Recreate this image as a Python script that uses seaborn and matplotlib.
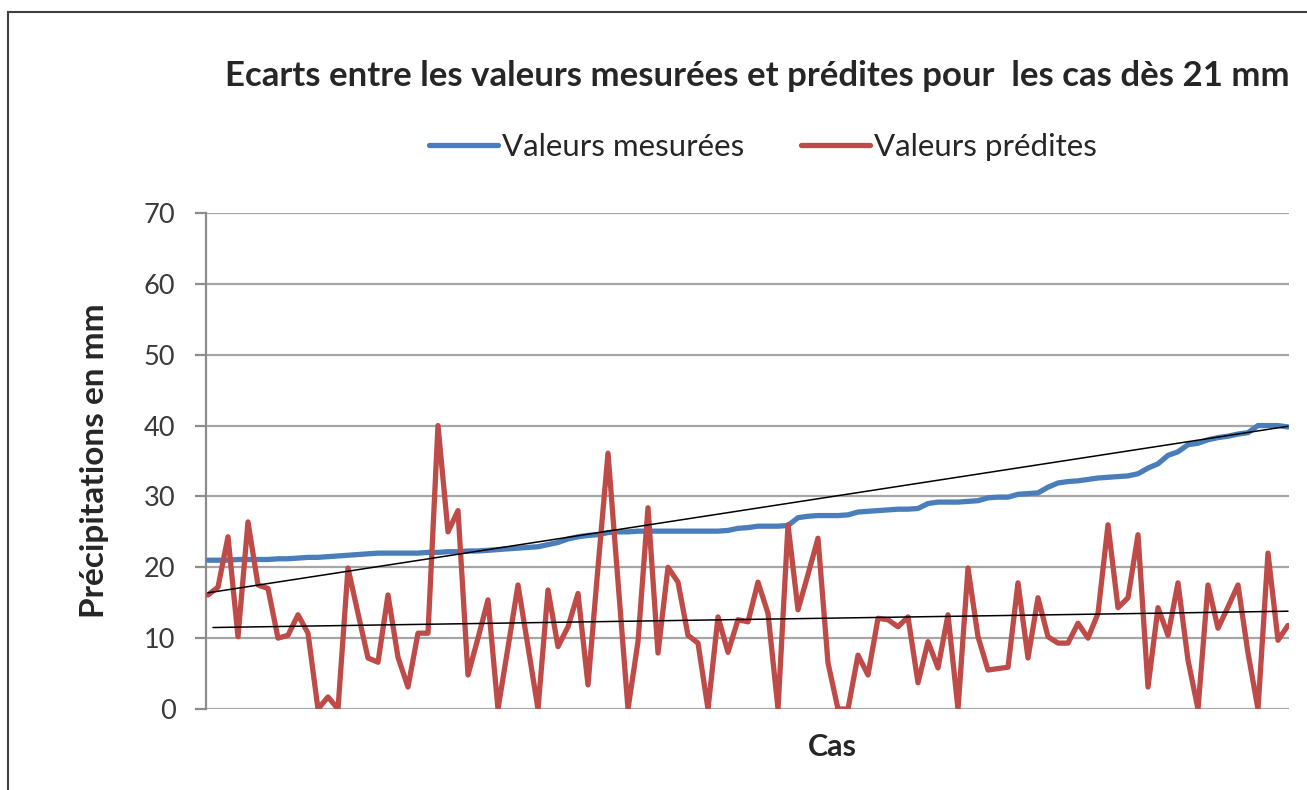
import numpy as np
import pandas as pd
import seaborn as sns
import matplotlib.pyplot as plt
from matplotlib.patches import Rectangle

mesurees = [21.0, 21.0, 21.0, 21.1, 21.1, 21.1, 21.1, 21.2, 21.2, 21.3,
            21.4, 21.4, 21.5, 21.6, 21.7, 21.8, 21.9, 22.0, 22.0, 22.0,
            22.0, 22.0, 22.1, 22.1, 22.2, 22.2, 22.3, 22.3, 22.4, 22.5,
            22.6, 22.7, 22.8, 22.9, 23.2, 23.5, 24.0, 24.3, 24.5, 24.6,
            24.9, 25.0, 25.0, 25.1, 25.1, 25.1, 25.1, 25.1, 25.1, 25.1,
            25.1, 25.1, 25.2, 25.5, 25.6, 25.8, 25.8, 25.8, 25.9, 27.0,
            27.2, 27.3, 27.3, 27.3, 27.4, 27.8, 27.9, 28.0, 28.1, 28.2,
            28.2, 28.3, 29.0, 29.2, 29.2, 29.2, 29.3, 29.4, 29.8, 29.9,
            29.9, 30.3, 30.4, 30.5, 31.3, 31.9, 32.1, 32.2, 32.4, 32.6,
            32.7, 32.8, 32.9, 33.2, 34.0, 34.6, 35.8, 36.3, 37.3, 37.5,
            38.0, 38.3, 38.5, 38.8, 39.0, 40.0, 40.0, 40.0, 39.8]

predites = [16.1, 17.2, 24.3, 10.2, 26.4, 17.5, 17.0, 10.0, 10.4, 13.3,
            10.7, 0.0, 1.7, 0.0, 19.9, 13.5, 7.2, 6.6, 16.1, 7.3,
            3.1, 10.7, 10.7, 40.0, 25.0, 28.0, 4.8, 10.0, 15.4, 0.0,
            8.7, 17.5, 8.8, 0.0, 16.8, 8.8, 11.6, 16.3, 3.4, 20.0,
            36.1, 18.0, 0.0, 9.5, 28.4, 7.9, 20.0, 17.9, 10.4, 9.3,
            0.0, 13.0, 8.0, 12.6, 12.3, 17.9, 13.5, 0.0, 26.0, 14.0,
            19.0, 24.1, 6.5, 0.0, 0.0, 7.6, 4.8, 12.8, 12.6, 11.6,
            13.0, 3.7, 9.5, 5.8, 13.3, 0.0, 19.9, 10.2, 5.5, 5.7,
            5.9, 17.8, 7.2, 15.7, 10.2, 9.3, 9.3, 12.1, 10.0, 13.5,
            26.0, 14.3, 15.7, 24.6, 3.1, 14.3, 10.4, 17.8, 6.9, 0.0,
            17.5, 11.4, 14.4, 17.5, 7.9, 0.0, 22.0, 9.7, 11.8]

cas = list(range(len(mesurees)))

# droites de tendance telles que tracées (extrémités)
tendance_cas = [0, len(cas) - 1]
tendance_mesurees = [16.4, 39.9]
tendance_predites = [11.5, 13.8]

df = pd.DataFrame({'Cas': cas, 'Valeurs mesurées': mesurees, 'Valeurs prédites': predites})

sns.set_style('white')
plt.rcParams['font.family'] = ['Lato', 'DejaVu Sans']

bleu = '#4A7EBB'
rouge = '#BE4B48'

fig = plt.figure(figsize=(13.07, 7.9), dpi=100)
ax = fig.add_axes([206 / 1307, 1 - 709 / 790, (1289 - 206) / 1307, (709 - 213) / 790])

sns.lineplot(data=df, x='Cas', y='Valeurs mesurées', color=bleu, lw=3.8, ax=ax,
             label='Valeurs mesurées', zorder=3)
sns.lineplot(data=df, x='Cas', y='Valeurs prédites', color=rouge, lw=3.8, ax=ax,
             label='Valeurs prédites', zorder=3)

sns.lineplot(x=tendance_cas, y=tendance_mesurees, color='black', lw=1.1, ax=ax, zorder=4)
sns.lineplot(x=[0.5, len(cas) - 1], y=tendance_predites, color='black', lw=1.1, ax=ax, zorder=4)

ax.set_xlim(-0.2, len(cas) - 0.9)
ax.set_ylim(0, 70)
ax.set_yticks(range(0, 71, 10))
ax.set_xticks([])
ax.yaxis.grid(True, color='#A6A6A6', lw=1.6)
ax.set_axisbelow(True)
for s in ['top', 'right', 'bottom']:
    ax.spines[s].set_visible(False)
ax.spines['left'].set_color('#8C8C8C')
ax.spines['left'].set_linewidth(1.6)
ax.tick_params(axis='y', left=True, length=8, width=1.6, color='#8C8C8C',
               labelsize=19.5, labelcolor='#3A3A3A', pad=14)

ax.set_ylabel('Précipitations en mm', fontsize=24, fontweight='bold')
ax.yaxis.set_label_coords((95 - 206) / (1289 - 206), 0.5)
ax.set_xlabel('Cas', fontsize=22, fontweight='bold')
ax.xaxis.set_label_coords((832 - 206) / (1289 - 206), -(747 - 709) / (709 - 213))
ax.xaxis.label.set_va('center')
ax.yaxis.label.set_va('center')

fig.text(757 / 1307, 1 - 76 / 790,
         'Ecarts entre les valeurs mesurées et prédites pour  les cas dès 21 mm',
         ha='center', va='center', fontsize=25, fontweight='bold')

ax.legend(loc='center', bbox_to_anchor=(763 / 1307, 1 - 147 / 790),
          bbox_transform=fig.transFigure, ncol=2, frameon=False, fontsize=22.5,
          handlelength=2.2, handletextpad=0.15, columnspacing=1.8)

# cadre du graphique
fig.patches.append(Rectangle((8 / 1307, -0.05), 1.1, 1 - 12 / 790 + 0.05,
                             transform=fig.transFigure, fill=False,
                             edgecolor='#3F3F3F', lw=1.5))

fig.savefig('out.png', dpi=100)
